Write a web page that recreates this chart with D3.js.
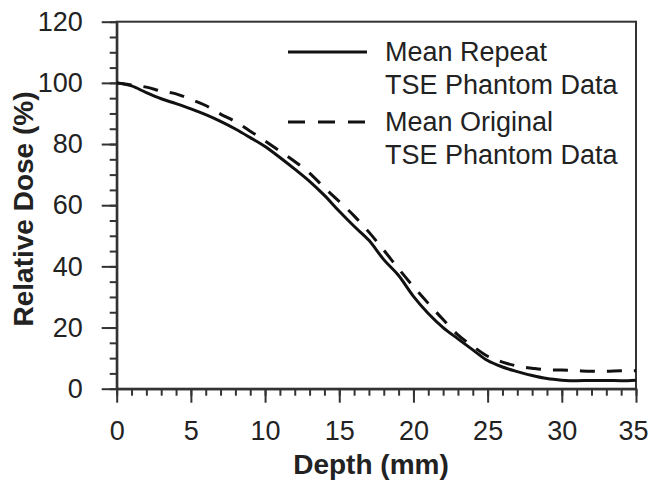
<!DOCTYPE html>
<html>
<head>
<meta charset="utf-8">
<script src="https://cdn.jsdelivr.net/npm/d3@7"></script>
<style>
  body { margin: 0; background: #fff; }
  svg { display: block; font-family: "Liberation Sans", Arial, sans-serif; }
  .tick text { font-size: 27px; fill: #222; }
  .axis path, .axis line { stroke: #333; stroke-width: 2px; }
</style>
</head>
<body>
<svg id="chart" width="649" height="481"></svg>
<script>
// Depth in mm at every 1 mm
var depth = [0, 1, 2, 3, 4, 5, 6, 7, 8, 9, 10, 11, 12, 13, 14, 15, 16, 17, 18,
  19, 20, 21, 22, 23, 24, 25, 26, 27, 28, 29, 30, 31, 32, 33, 34, 35];

var repeatDose = [100, 99, 96.8, 94.8, 93.2, 91.5, 89.6, 87.4, 84.9, 82.1, 79.2,
  75.6, 71.8, 67.8, 63.2, 58, 53.1, 48.5, 42.2, 37, 30.2, 24.6, 20, 16.3, 12.7,
  9.2, 7.1, 5.6, 4.3, 3.3, 2.8, 2.6, 2.7, 2.7, 2.6, 2.8];

var originalDose = [100, 99.3, 98.6, 97.3, 96.4, 94.6, 92.6, 89.8, 87.3, 84.2, 81,
  77.7, 74.3, 70.5, 65.7, 61.2, 56.5, 51.2, 45.3, 39.2, 33.4, 27.9, 22.6, 17.6,
  13.9, 10.6, 8.7, 7.4, 6.7, 6.2, 6.1, 5.9, 5.7, 5.7, 5.9, 5.9];

var xTicks = [0, 5, 10, 15, 20, 25, 30, 35];
var xMinorTicks = d3.range(0, 36, 1);
var yTicks = [0, 20, 40, 60, 80, 100, 120];
var yMinorTicks = d3.range(0, 121, 5);

var legendLabels = [
  ["Mean Repeat", "TSE Phantom Data"],
  ["Mean Original", "TSE Phantom Data"]
];

var svg = d3.select("#chart");

var x = d3.scaleLinear().domain([0, 35]).range([116.7, 636]);
var y = d3.scaleLinear().domain([0, 120]).range([388.7, 21.7]);

// Frame on top and right, no ticks there
svg.append("rect")
  .attr("x", x(0))
  .attr("y", y(120))
  .attr("width", x(35) - x(0))
  .attr("height", y(0) - y(120))
  .attr("fill", "none")
  .attr("stroke", "#333")
  .attr("stroke-width", 2);

// Minor ticks first, then the labelled major ticks over them
svg.append("g")
  .attr("class", "axis")
  .attr("transform", "translate(0," + y(0) + ")")
  .call(d3.axisBottom(x).tickValues(xMinorTicks).tickSize(7).tickSizeOuter(0).tickFormat(""));

var xAxis = svg.append("g")
  .attr("class", "axis")
  .attr("transform", "translate(0," + y(0) + ")")
  .call(d3.axisBottom(x).tickValues(xTicks).tickSize(14).tickSizeOuter(0).tickPadding(18));

// The last label sits at the page edge, nudge it inside
xAxis.selectAll(".tick text")
  .attr("dx", function(d) { return d === 35 ? -3 : 0; });

svg.append("g")
  .attr("class", "axis")
  .attr("transform", "translate(" + x(0) + ",0)")
  .call(d3.axisLeft(y).tickValues(yMinorTicks).tickSize(7).tickSizeOuter(0).tickFormat(""));

svg.append("g")
  .attr("class", "axis")
  .attr("transform", "translate(" + x(0) + ",0)")
  .call(d3.axisLeft(y).tickValues(yTicks).tickSize(15).tickSizeOuter(0).tickPadding(19));

// Axis titles
svg.append("text")
  .attr("x", 371)
  .attr("y", 474)
  .attr("text-anchor", "middle")
  .attr("font-size", 28)
  .attr("font-weight", "bold")
  .attr("fill", "#222")
  .text("Depth (mm)");

svg.append("text")
  .attr("transform", "translate(33,209) rotate(-90)")
  .attr("text-anchor", "middle")
  .attr("font-size", 28)
  .attr("font-weight", "bold")
  .attr("fill", "#222")
  .text("Relative Dose (%)");

var line = d3.line()
  .x(function(d, i) { return x(depth[i]); })
  .y(function(d) { return y(d); })
  .curve(d3.curveMonotoneX);

svg.append("path")
  .datum(originalDose)
  .attr("d", line)
  .attr("fill", "none")
  .attr("stroke", "#111")
  .attr("stroke-width", 3)
  .attr("stroke-dasharray", "15,12");

svg.append("path")
  .datum(repeatDose)
  .attr("d", line)
  .attr("fill", "none")
  .attr("stroke", "#111")
  .attr("stroke-width", 3);

// Legend, two lines of text per entry
var legend = svg.append("g").selectAll("g")
  .data(legendLabels)
  .enter().append("g")
  .attr("transform", function(d, i) { return "translate(0," + (i * 70) + ")"; });

legend.append("line")
  .attr("x1", 288)
  .attr("x2", 367)
  .attr("y1", 52)
  .attr("y2", 52)
  .attr("stroke", "#111")
  .attr("stroke-width", 3)
  .attr("stroke-dasharray", function(d, i) { return i === 1 ? "17,13" : null; });

legend.append("text")
  .attr("x", 385)
  .attr("y", 61)
  .attr("font-size", 27)
  .attr("fill", "#222")
  .text(function(d) { return d[0]; });

legend.append("text")
  .attr("x", 385)
  .attr("y", 94)
  .attr("font-size", 27)
  .attr("fill", "#222")
  .text(function(d) { return d[1]; });
</script>
</body>
</html>
